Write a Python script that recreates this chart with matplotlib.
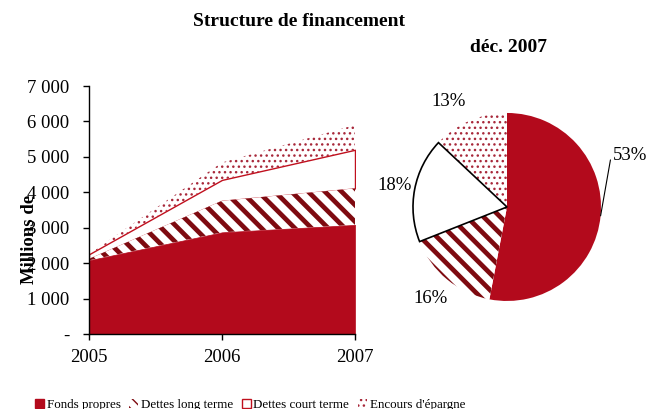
import numpy as np
import matplotlib
matplotlib.use("Agg")
import matplotlib.pyplot as plt
from matplotlib.patches import Patch
from matplotlib.ticker import FuncFormatter

plt.rcParams["font.family"] = ["Liberation Serif", "DejaVu Serif"]

# Donnees (millions)
annees = [2005, 2006, 2007]
fonds_propres = [2080, 2870, 3080]
dettes_lt = [40, 890, 1030]
dettes_ct = [130, 590, 1090]
epargne = [10, 490, 700]

series_noms = ["Fonds propres", "Dettes long terme", "Dettes court terme", "Encours d'épargne"]
parts_2007 = [53, 16, 18, 13]
yticks = [0, 1000, 2000, 3000, 4000, 5000, 6000, 7000]

ROUGE = "#B30A1C"
RAYURE = "#7E0A10"
POINTS = "#A8283A"
LIGNE = "#C0101E"

fig = plt.figure(figsize=(6.51, 4.09), dpi=100)

# --- aires empilees
ax = fig.add_axes([0.1367, 0.1834, 0.4086, 0.6063])
x = np.array(annees)
b0 = np.zeros(3)
b1 = b0 + fonds_propres
b2 = b1 + dettes_lt
b3 = b2 + dettes_ct
b4 = b3 + epargne

with plt.rc_context({"hatch.linewidth": 1.0}):
    ax.fill_between(x, b3, b4, facecolor="white", edgecolor=POINTS, hatch="...", linewidth=0)
ax.fill_between(x, b2, b3, facecolor="white", edgecolor=LIGNE, linewidth=1.0)
with plt.rc_context({"hatch.linewidth": 3.4}):
    ax.fill_between(x, b1, b2, facecolor="white", edgecolor=RAYURE, hatch="\\\\", linewidth=0)
ax.fill_between(x, b0, b1, facecolor=ROUGE, edgecolor=ROUGE, linewidth=0.5)

ax.set_xlim(2005, 2007)
ax.set_ylim(0, 7000)
ax.set_xticks(annees)
ax.set_yticks(yticks)
ax.yaxis.set_major_formatter(FuncFormatter(
    lambda v, p: "-" if v == 0 else f"{int(v):,}".replace(",", " ")))
ax.tick_params(axis="both", direction="out", length=4, width=1, labelsize=13.5)
ax.tick_params(axis="x", pad=7)
ax.tick_params(axis="y", pad=10)
for s in ["top", "right"]:
    ax.spines[s].set_visible(False)
for s in ["left", "bottom"]:
    ax.spines[s].set_linewidth(1)

fig.text(30 / 651, 1 - 239 / 409, "Millions de", rotation=90, ha="center", va="center",
         fontsize=13.5, fontweight="bold")
fig.text(299 / 651, 1 - 22 / 409, "Structure de financement", ha="center", va="center",
         fontsize=14, fontweight="bold")
fig.text(509 / 651, 1 - 48 / 409, "déc. 2007", ha="center", va="center",
         fontsize=14, fontweight="bold")

# --- camembert
axp = fig.add_axes([0.6344, 0.2641, 0.2888, 0.4597])
styles = [
    dict(facecolor=ROUGE, edgecolor=ROUGE, linewidth=0, hatch=None, hlw=1.0),
    dict(facecolor="white", edgecolor=RAYURE, linewidth=0, hatch="\\\\", hlw=3.4),
    dict(facecolor="white", edgecolor="black", linewidth=1.2, hatch=None, hlw=1.0),
    dict(facecolor="white", edgecolor=POINTS, linewidth=0, hatch="...", hlw=1.0),
]
w, _ = axp.pie(parts_2007, startangle=90, counterclock=False, radius=1.0)
for wd, st in zip(w, styles):
    wd.set_facecolor(st["facecolor"])
    wd.set_edgecolor(st["edgecolor"])
    wd.set_linewidth(st["linewidth"])
    if st["hatch"]:
        with plt.rc_context({"hatch.linewidth": st["hlw"]}):
            wd.set_hatch(st["hatch"])
            try:
                wd.set_hatch_linewidth(st["hlw"])
            except AttributeError:
                pass
w[2].set_zorder(3)
axp.set_xlim(-1, 1)
axp.set_ylim(-1, 1)
axp.set_aspect("equal")

# distance, decalage angulaire et vertical des etiquettes
dist = [None, 1.27, 1.22, 1.30]
decal = [0, 0, 0, 5]
dy = [0, 0, 0, -0.02]
for wd, pct, d, da, ddy in zip(w, parts_2007, dist, decal, dy):
    ang = np.deg2rad((wd.theta1 + wd.theta2) / 2 + da)
    if d is None:
        axp.annotate(f"{pct}%", xy=(np.cos(ang), np.sin(ang)), xytext=(1.13, 0.55),
                     ha="left", va="center", fontsize=13.5,
                     arrowprops=dict(arrowstyle="-", color="black", lw=0.8,
                                     shrinkA=0, shrinkB=0,
                                     connectionstyle="angle,angleA=0,angleB=80,rad=0"),
                     annotation_clip=False)
    else:
        axp.text(d * np.cos(ang), d * np.sin(ang) + ddy, f"{pct}%", ha="center",
                 va="center", fontsize=13.5, clip_on=False)

# --- legende
handles = [
    Patch(facecolor=ROUGE, edgecolor=ROUGE),
    Patch(facecolor="white", edgecolor=RAYURE, hatch="\\\\\\", linewidth=0),
    Patch(facecolor="white", edgecolor=LIGNE, linewidth=1.0),
    Patch(facecolor="white", edgecolor=POINTS, hatch="...", linewidth=0),
]
fig.legend(handles, series_noms, loc="center", bbox_to_anchor=(250 / 651, 1 - 405 / 409),
           ncol=4, frameon=False, fontsize=9.4, handlelength=0.7, handleheight=0.7,
           handletextpad=0.2, columnspacing=0.65, borderpad=0)

fig.savefig("out.png", dpi=100)
